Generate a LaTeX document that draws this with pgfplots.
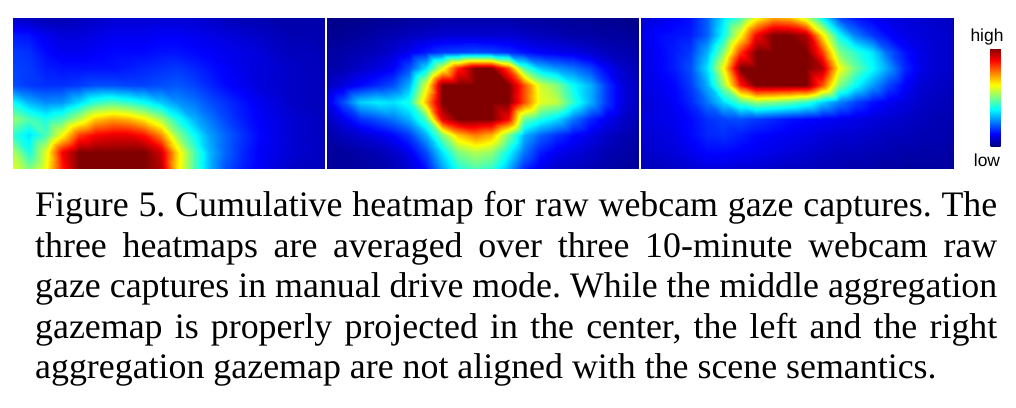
\documentclass[border=0pt]{standalone}
\usepackage{pgfplots}
\pgfplotsset{compat=1.18}
\usepackage{fontspec}
\setmainfont{Liberation Serif}
\newfontfamily\labelfont{Liberation Sans}

% one heatmap panel, 20 x 10 grid, values 0..100 (100 = saturated dark red)
\pgfplotsset{heat/.style={
    anchor=north west, width=312bp, height=151bp, scale only axis,
    view={0}{90}, hide axis,
    xmin=0, xmax=19, ymin=0, ymax=9,
    colormap/jet, point meta min=0, point meta max=100,
}}

\begin{document}
\begin{tikzpicture}
\path[use as bounding box] (0,0) rectangle (1016bp,-408bp);

% left panel: blob at the bottom
\begin{axis}[heat, at={(13bp,-18bp)}]
\addplot3[surf, shader=interp] coordinates {
(0,0,60) (1,0,50) (2,0,62) (3,0,85) (4,0,100) (5,0,100) (6,0,100) (7,0,100) (8,0,100) (9,0,95) (10,0,65) (11,0,45) (12,0,30) (13,0,20) (14,0,15) (15,0,12) (16,0,9) (17,0,7) (18,0,6) (19,0,6)

(0,1,55) (1,1,40) (2,1,60) (3,1,88) (4,1,100) (5,1,100) (6,1,100) (7,1,100) (8,1,100) (9,1,92) (10,1,66) (11,1,45) (12,1,30) (13,1,22) (14,1,16) (15,1,12) (16,1,10) (17,1,8) (18,1,7) (19,1,6)

(0,2,42) (1,2,35) (2,2,45) (3,2,62) (4,2,82) (5,2,88) (6,2,90) (7,2,90) (8,2,86) (9,2,74) (10,2,52) (11,2,38) (12,2,28) (13,2,22) (14,2,17) (15,2,13) (16,2,10) (17,2,8) (18,2,7) (19,2,6)

(0,3,52) (1,3,45) (2,3,40) (3,3,45) (4,3,56) (5,3,68) (6,3,72) (7,3,70) (8,3,64) (9,3,54) (10,3,40) (11,3,30) (12,3,24) (13,3,19) (14,3,15) (15,3,12) (16,3,10) (17,3,8) (18,3,7) (19,3,6)

(0,4,38) (1,4,30) (2,4,26) (3,4,27) (4,4,34) (5,4,42) (6,4,45) (7,4,42) (8,4,38) (9,4,32) (10,4,27) (11,4,24) (12,4,20) (13,4,17) (14,4,14) (15,4,11) (16,4,9) (17,4,7) (18,4,6) (19,4,6)

(0,5,20) (1,5,18) (2,5,17) (3,5,17) (4,5,18) (5,5,20) (6,5,20) (7,5,19) (8,5,19) (9,5,20) (10,5,21) (11,5,19) (12,5,16) (13,5,13) (14,5,11) (15,5,9) (16,5,8) (17,5,7) (18,5,6) (19,5,6)

(0,6,19) (1,6,18) (2,6,15) (3,6,14) (4,6,14) (5,6,14) (6,6,14) (7,6,15) (8,6,16) (9,6,17) (10,6,18) (11,6,16) (12,6,14) (13,6,12) (14,6,10) (15,6,9) (16,6,8) (17,6,7) (18,6,6) (19,6,6)

(0,7,18) (1,7,17) (2,7,13) (3,7,11) (4,7,11) (5,7,12) (6,7,13) (7,7,13) (8,7,13) (9,7,14) (10,7,14) (11,7,13) (12,7,12) (13,7,11) (14,7,10) (15,7,9) (16,7,7) (17,7,6) (18,7,6) (19,7,5)

(0,8,15) (1,8,14) (2,8,11) (3,8,9) (4,8,9) (5,8,10) (6,8,11) (7,8,11) (8,8,11) (9,8,12) (10,8,12) (11,8,11) (12,8,10) (13,8,9) (14,8,8) (15,8,7) (16,8,6) (17,8,5) (18,8,5) (19,8,5)

(0,9,7) (1,9,6) (2,9,5) (3,9,5) (4,9,6) (5,9,7) (6,9,8) (7,9,8) (8,9,8) (9,9,8) (10,9,8) (11,9,8) (12,9,7) (13,9,6) (14,9,5) (15,9,5) (16,9,4) (17,9,4) (18,9,4) (19,9,4)
};
\end{axis}

% middle panel: blob in the centre
\begin{axis}[heat, at={(327bp,-18bp)}]
\addplot3[surf, shader=interp] coordinates {
(0,0,3) (1,0,3) (2,0,3) (3,0,4) (4,0,5) (5,0,8) (6,0,14) (7,0,28) (8,0,40) (9,0,45) (10,0,42) (11,0,30) (12,0,16) (13,0,10) (14,0,7) (15,0,6) (16,0,5) (17,0,4) (18,0,3) (19,0,3)

(0,1,3) (1,1,3) (2,1,4) (3,1,5) (4,1,7) (5,1,11) (6,1,20) (7,1,35) (8,1,50) (9,1,55) (10,1,52) (11,1,38) (12,1,24) (13,1,15) (14,1,11) (15,1,9) (16,1,7) (17,1,5) (18,1,4) (19,1,3)

(0,2,4) (1,2,6) (2,2,8) (3,2,10) (4,2,13) (5,2,18) (6,2,30) (7,2,50) (8,2,68) (9,2,75) (10,2,70) (11,2,50) (12,2,30) (13,2,22) (14,2,17) (15,2,13) (16,2,10) (17,2,7) (18,2,5) (19,2,4)

(0,3,6) (1,3,11) (2,3,17) (3,3,20) (4,3,24) (5,3,30) (6,3,45) (7,3,90) (8,3,100) (9,3,100) (10,3,100) (11,3,88) (12,3,48) (13,3,40) (14,3,34) (15,3,24) (16,3,16) (17,3,11) (18,3,7) (19,3,5)

(0,4,10) (1,4,20) (2,4,33) (3,4,36) (4,4,35) (5,4,40) (6,4,70) (7,4,100) (8,4,100) (9,4,100) (10,4,100) (11,4,100) (12,4,80) (13,4,60) (14,4,56) (15,4,42) (16,4,30) (17,4,18) (18,4,9) (19,4,6)

(0,5,6) (1,5,9) (2,5,13) (3,5,16) (4,5,20) (5,5,30) (6,5,60) (7,5,100) (8,5,100) (9,5,100) (10,5,100) (11,5,100) (12,5,80) (13,5,58) (14,5,50) (15,5,38) (16,5,30) (17,5,18) (18,5,9) (19,5,6)

(0,6,4) (1,6,5) (2,6,7) (3,6,9) (4,6,12) (5,6,20) (6,6,35) (7,6,60) (8,6,85) (9,6,100) (10,6,100) (11,6,80) (12,6,45) (13,6,32) (14,6,27) (15,6,24) (16,6,19) (17,6,12) (18,6,7) (19,6,5)

(0,7,3) (1,7,4) (2,7,5) (3,7,6) (4,7,8) (5,7,11) (6,7,15) (7,7,18) (8,7,19) (9,7,20) (10,7,19) (11,7,17) (12,7,14) (13,7,12) (14,7,11) (15,7,10) (16,7,8) (17,7,6) (18,7,5) (19,7,4)

(0,8,2) (1,8,2) (2,8,3) (3,8,4) (4,8,5) (5,8,6) (6,8,7) (7,8,8) (8,8,8) (9,8,8) (10,8,8) (11,8,8) (12,8,7) (13,8,6) (14,8,5) (15,8,4) (16,8,4) (17,8,3) (18,8,3) (19,8,2)

(0,9,1) (1,9,1) (2,9,1) (3,9,2) (4,9,2) (5,9,3) (6,9,3) (7,9,4) (8,9,4) (9,9,4) (10,9,4) (11,9,4) (12,9,3) (13,9,3) (14,9,3) (15,9,2) (16,9,2) (17,9,2) (18,9,1) (19,9,1)
};
\end{axis}

% right panel: blob at the top, with the colour bar
\begin{axis}[heat, at={(641bp,-18bp)}, width=313bp,
    colorbar,
    colorbar style={
        at={(parent axis.north east)}, anchor=north west,
        xshift=28bp, yshift=-30bp,
        width=10bp, height=98bp,
        ytick=\empty, axis line style={draw=none},
    }]
\addplot3[surf, shader=interp] coordinates {
(0,0,5) (1,0,6) (2,0,7) (3,0,8) (4,0,9) (5,0,9) (6,0,8) (7,0,8) (8,0,7) (9,0,6) (10,0,6) (11,0,5) (12,0,5) (13,0,4) (14,0,4) (15,0,3) (16,0,3) (17,0,3) (18,0,3) (19,0,3)

(0,1,7) (1,1,8) (2,1,9) (3,1,11) (4,1,13) (5,1,13) (6,1,12) (7,1,11) (8,1,10) (9,1,9) (10,1,8) (11,1,7) (12,1,6) (13,1,6) (14,1,5) (15,1,5) (16,1,4) (17,1,4) (18,1,4) (19,1,3)

(0,2,8) (1,2,9) (2,2,10) (3,2,13) (4,2,16) (5,2,17) (6,2,15) (7,2,13) (8,2,12) (9,2,11) (10,2,10) (11,2,9) (12,2,8) (13,2,8) (14,2,7) (15,2,6) (16,2,6) (17,2,5) (18,2,5) (19,2,4)

(0,3,9) (1,3,10) (2,3,11) (3,3,13) (4,3,17) (5,3,19) (6,3,20) (7,3,18) (8,3,16) (9,3,14) (10,3,13) (11,3,12) (12,3,11) (13,3,10) (14,3,9) (15,3,8) (16,3,7) (17,3,6) (18,3,5) (19,3,5)

(0,4,8) (1,4,10) (2,4,12) (3,4,16) (4,4,24) (5,4,34) (6,4,45) (7,4,52) (8,4,50) (9,4,47) (10,4,42) (11,4,33) (12,4,25) (13,4,19) (14,4,14) (15,4,11) (16,4,9) (17,4,7) (18,4,6) (19,4,5)

(0,5,9) (1,5,11) (2,5,13) (3,5,18) (4,5,30) (5,5,52) (6,5,85) (7,5,100) (8,5,100) (9,5,100) (10,5,100) (11,5,80) (12,5,50) (13,5,38) (14,5,28) (15,5,19) (16,5,12) (17,5,8) (18,5,7) (19,5,6)

(0,6,9) (1,6,12) (2,6,15) (3,6,20) (4,6,35) (5,6,62) (6,6,100) (7,6,100) (8,6,100) (9,6,100) (10,6,100) (11,6,95) (12,6,62) (13,6,48) (14,6,38) (15,6,28) (16,6,16) (17,6,10) (18,6,8) (19,6,7)

(0,7,9) (1,7,12) (2,7,15) (3,7,18) (4,7,30) (5,7,50) (6,7,82) (7,7,100) (8,7,100) (9,7,100) (10,7,100) (11,7,82) (12,7,50) (13,7,42) (14,7,35) (15,7,22) (16,7,14) (17,7,10) (18,7,8) (19,7,7)

(0,8,10) (1,8,13) (2,8,14) (3,8,15) (4,8,22) (5,8,38) (6,8,62) (7,8,88) (8,8,100) (9,8,100) (10,8,95) (11,8,65) (12,8,38) (13,8,25) (14,8,18) (15,8,13) (16,8,10) (17,8,9) (18,8,8) (19,8,7)

(0,9,8) (1,9,10) (2,9,12) (3,9,14) (4,9,22) (5,9,35) (6,9,45) (7,9,62) (8,9,72) (9,9,70) (10,9,58) (11,9,38) (12,9,20) (13,9,15) (14,9,12) (15,9,10) (16,9,9) (17,9,8) (18,9,7) (19,9,6)
};
\end{axis}

\node[font=\labelfont\fontsize{17.5}{17.5}\selectfont] at (987bp,-37bp) {high};
\node[font=\labelfont\fontsize{17.5}{17.5}\selectfont] at (987bp,-160bp) {low};

\node[anchor=north west, inner sep=0pt, text width=962bp, align=justify,
      font=\fontsize{36}{40.5}\selectfont\frenchspacing] at (35bp,-191.5bp)
{Figure 5. Cumulative heatmap for raw webcam gaze captures. The\linebreak
three heatmaps are averaged over three 10-minute webcam raw\linebreak
gaze captures in manual drive mode. While the middle aggregation\linebreak
gazemap is properly projected in the center, the left and the right\linebreak
aggregation gazemap are not aligned with the scene semantics.};
\end{tikzpicture}
\end{document}
